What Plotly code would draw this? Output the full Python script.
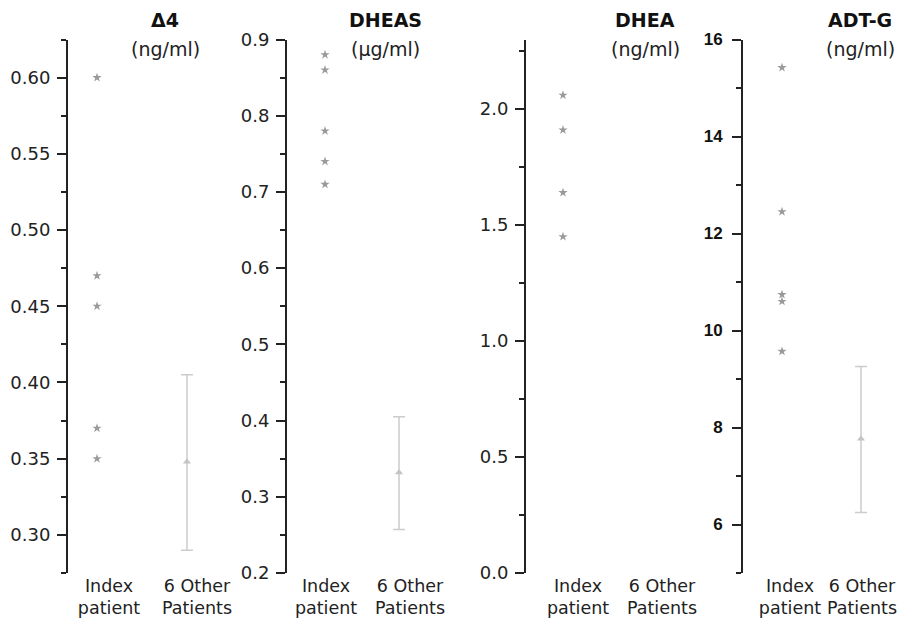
import plotly.graph_objects as go

# ---- data ----
titles = ["Δ4", "DHEAS", "DHEA", "ADT-G"]
units = ["(ng/ml)", "(μg/ml)", "(ng/ml)", "(ng/ml)"]
group_labels = ["Index<br>patient", "6 Other<br>Patients"]

d4_index = [0.60, 0.47, 0.45, 0.37, 0.35]
d4_other_mean = 0.348
d4_other_up = 0.057
d4_other_down = 0.058

dheas_index = [0.88, 0.86, 0.78, 0.74, 0.71]
dheas_other_mean = 0.332
dheas_other_up = 0.073
dheas_other_down = 0.075

dhea_index = [2.06, 1.91, 1.64, 1.45]

adtg_index = [15.42, 12.45, 10.74, 10.60, 9.57]
adtg_other_mean = 7.77
adtg_other_up = 1.49
adtg_other_down = 1.52

# ---- layout helpers (styles / positions) ----
W, H = 911, 620


def fx(px):
    return px / W


def fy(py):
    return 1 - py / H


panels = [
    dict(idx=d4_index, mean=d4_other_mean, up=d4_other_up, dn=d4_other_down,
         axis_px=68, right_px=240, unit_px=90, index_px=97,
         lab=[1.133, 2.111], yr=[0.275, 0.625], dtick=0.05, minor=0.025, fmt=".2f",
         tx=165, bold=False),
    dict(idx=dheas_index, mean=dheas_other_mean, up=dheas_other_up, dn=dheas_other_down,
         axis_px=287, right_px=470, unit_px=74, index_px=325,
         lab=[1.014, 2.149], yr=[0.2, 0.9], dtick=0.1, minor=0.05, fmt=".1f",
         tx=385, bold=False),
    dict(idx=dhea_index, mean=None, up=None, dn=None,
         axis_px=526, right_px=700, unit_px=84, index_px=563,
         lab=[1.179, 2.179], yr=[0.0, 2.3], dtick=0.5, minor=0.25, fmt=".1f",
         tx=645, bold=False),
    dict(idx=adtg_index, mean=adtg_other_mean, up=adtg_other_up, dn=adtg_other_down,
         axis_px=743, right_px=911, unit_px=79, index_px=782,
         lab=[1.101, 2.013], yr=[5, 16], dtick=2, minor=1, fmt="d",
         tx=860, bold=True),
]

FONT = "DejaVu Sans, Verdana, sans-serif"
BFONT = "Liberation Sans, Arial, sans-serif"
fig = go.Figure()
ybot, ytop = 573, 39.5
annotations = []

for i, p in enumerate(panels):
    n = i + 1
    xa = "x" if n == 1 else f"x{n}"
    ya = "y" if n == 1 else f"y{n}"
    fig.add_trace(go.Scatter(
        x=[1] * len(p["idx"]), y=p["idx"], mode="markers",
        marker=dict(symbol="star", size=7, color="#9a9a9a", line=dict(width=0)),
        xaxis=xa, yaxis=ya, showlegend=False, hoverinfo="y"))
    if p["mean"] is not None:
        fig.add_trace(go.Scatter(
            x=[2], y=[p["mean"]], mode="markers",
            marker=dict(symbol="triangle-up", size=7, color="#c4c4c4"),
            error_y=dict(type="data", symmetric=False, array=[p["up"]],
                         arrayminus=[p["dn"]], color="#cccccc", thickness=1.5, width=6),
            xaxis=xa, yaxis=ya, showlegend=False, hoverinfo="y"))

    x0 = 1 - (p["index_px"] - p["axis_px"]) / p["unit_px"]
    x1 = 1 + (p["right_px"] - p["index_px"]) / p["unit_px"]
    xkey = "xaxis" if n == 1 else f"xaxis{n}"
    ykey = "yaxis" if n == 1 else f"yaxis{n}"
    if p["bold"]:
        yfont = dict(family=BFONT, size=17, color="#111", weight="bold")
        standoff = 6
    else:
        yfont = dict(family=FONT, size=18, color="#222")
        standoff = 3
    fig.update_layout({
        xkey: dict(domain=[fx(p["axis_px"]), fx(p["right_px"])], range=[x0, x1],
                   anchor=ya, showline=False, showgrid=False, zeroline=False,
                   automargin=False,
                   ticks="", tickvals=p["lab"], ticktext=group_labels,
                   tickfont=dict(family=FONT, size=17.5, color="#222"), fixedrange=True),
        ykey: dict(domain=[fy(ybot), fy(ytop)], range=p["yr"], anchor=xa,
                   automargin=False, ticklabelstandoff=standoff,
                   showline=True, linewidth=2, linecolor="#222", showgrid=False,
                   zeroline=False, ticks="outside", ticklen=9, tickwidth=1.5,
                   tickcolor="#222", dtick=p["dtick"], tick0=0, tickformat=p["fmt"],
                   minor=dict(dtick=p["minor"], tick0=0, ticks="outside", ticklen=5,
                              tickwidth=1.5, tickcolor="#222"),
                   tickfont=yfont, fixedrange=True),
    })
    annotations.append(dict(text="<b>" + titles[i] + "</b>", x=fx(p["tx"]), y=fy(20),
                            xref="paper", yref="paper", showarrow=False,
                            xanchor="center", yanchor="middle",
                            font=dict(family=FONT, size=19, color="#111")))
    annotations.append(dict(text=units[i], x=fx(p["tx"]), y=fy(49),
                            xref="paper", yref="paper", showarrow=False,
                            xanchor="center", yanchor="middle",
                            font=dict(family=FONT, size=19, color="#222")))

fig.update_layout(width=W, height=H, margin=dict(l=0, r=0, t=0, b=0, autoexpand=False),
                  paper_bgcolor="white", plot_bgcolor="white",
                  annotations=annotations, showlegend=False)

fig.write_html("out.html", config={"displayModeBar": False},
               post_script="document.body.style.margin='0';document.body.style.overflow='hidden';")
